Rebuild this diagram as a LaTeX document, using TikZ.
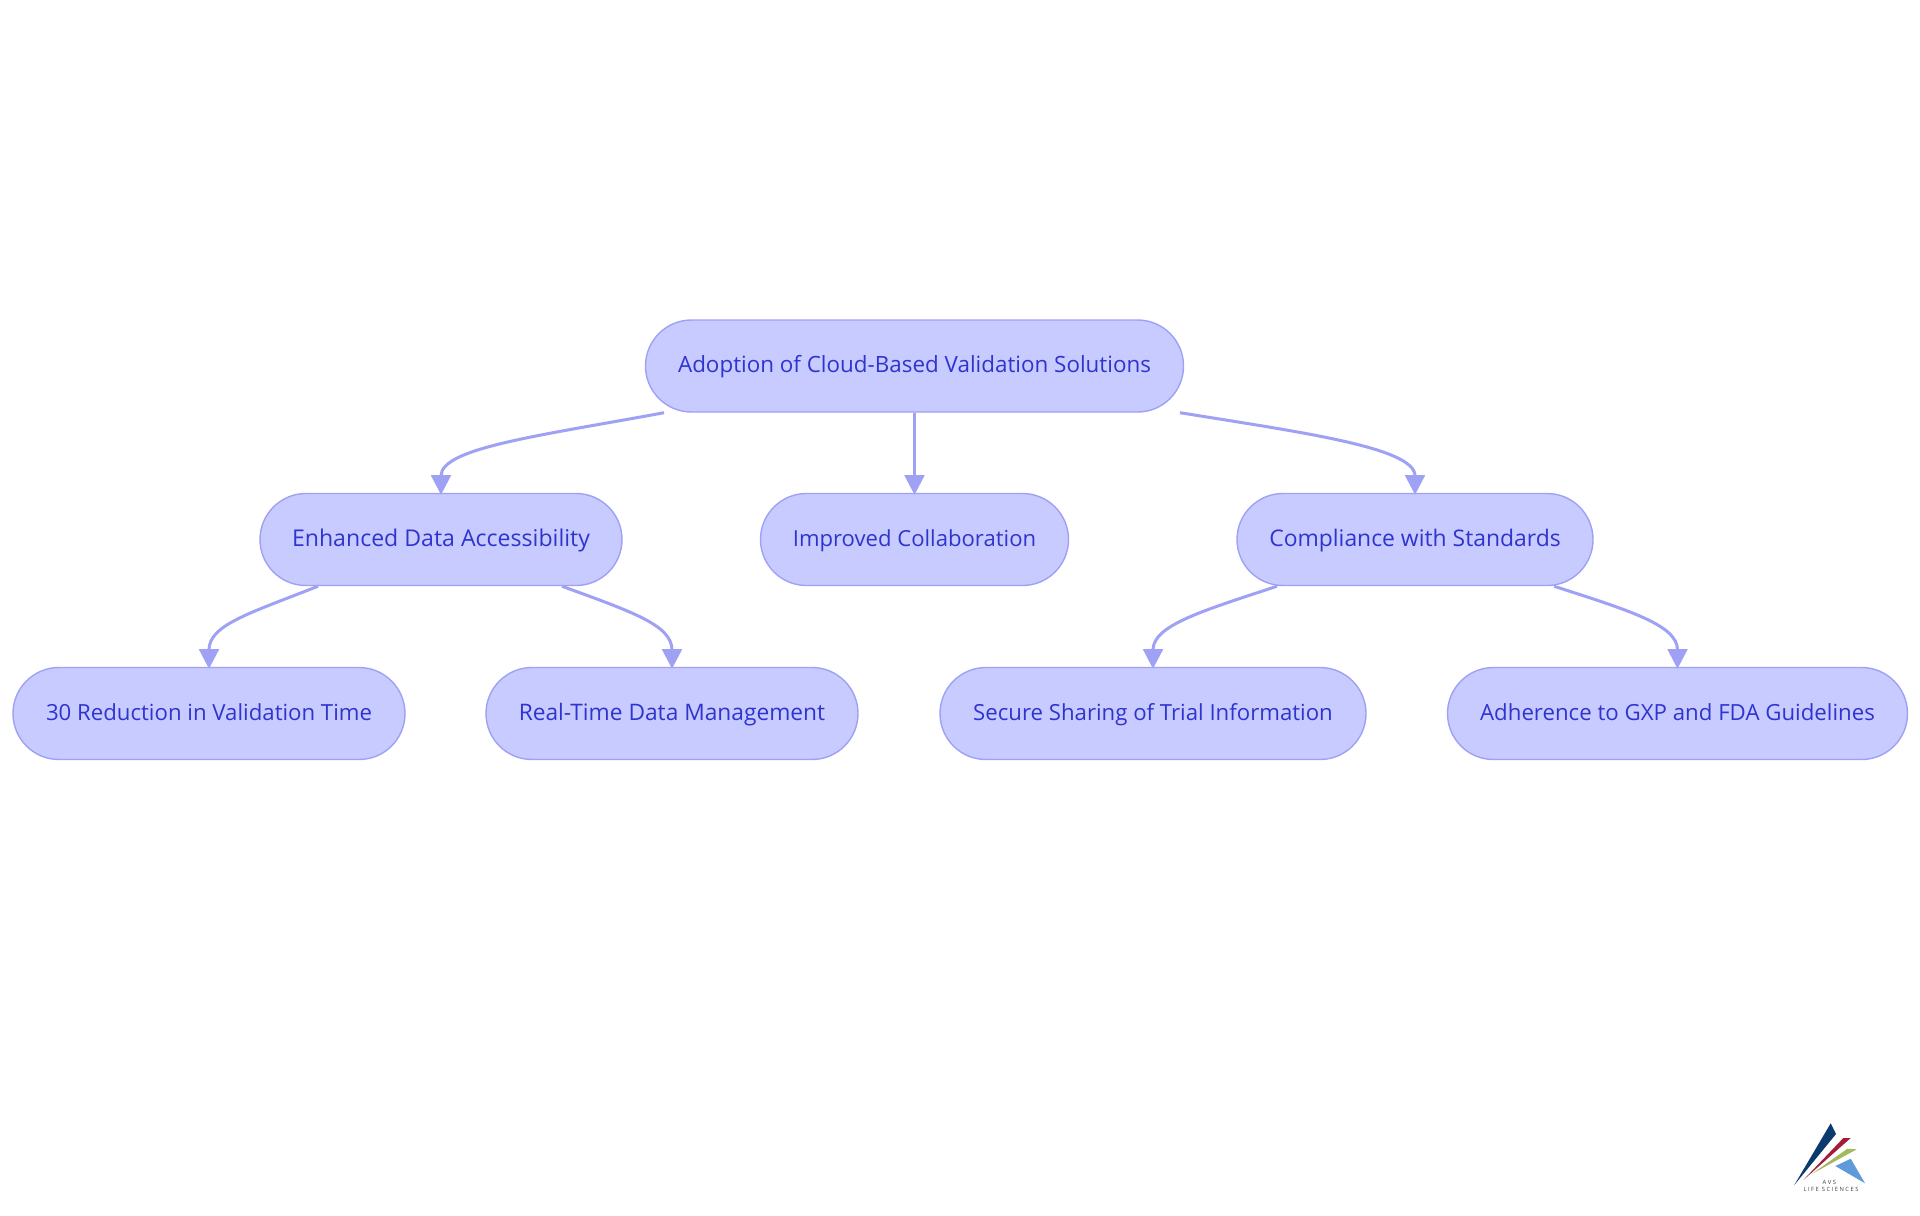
\documentclass[tikz,border=0pt]{standalone}
\usepackage{fontspec}
\setmainfont{Open Sans}
\usetikzlibrary{arrows.meta,calc}
\definecolor{nodefill}{HTML}{C8CBFF}
\definecolor{nodeline}{HTML}{9EA1F4}
\definecolor{nodetext}{HTML}{2F34CF}
\definecolor{logonavy}{HTML}{0B3A6E}
\definecolor{logored}{HTML}{A31B36}
\definecolor{logogreen}{HTML}{A3B95F}
\definecolor{logoblue}{HTML}{5F9BDA}
\tikzset{
  box/.style={draw=nodeline,fill=nodefill,line width=0.7pt,rounded corners=23pt,minimum height=46pt,inner sep=0pt,text=nodetext,text height=9.3pt,text depth=2.5pt},
  fs/.style={font=\fontsize{#1pt}{14pt}\selectfont},
  link/.style={draw=nodeline,line width=1.5pt,shorten >=-1pt,-{Triangle[length=9.8pt,width=9.8pt,color=nodeline]}},
  logotext/.style={font=\fontsize{2.9pt}{3.2pt}\selectfont,text=black!75,inner sep=0pt}
}
\begin{document}
\begin{tikzpicture}[x=0.5pt,y=-0.5pt]
\useasboundingbox (0,0) rectangle (1920,1215);
\fill[white] (0,0) rectangle (1920,1215);
\node[box,fs=11.2,minimum width=269pt] (root) at (914.5,366) {Adoption of Cloud-Based Validation Solutions};
\node[box,fs=11.55,minimum width=181pt] (n1) at (441,539.5) {Enhanced Data Accessibility};
\node[box,fs=11.05,minimum width=154pt] (n2) at (914.5,539.5) {Improved Collaboration};
\node[box,fs=11.45,minimum width=178pt] (n3) at (1415,539.5) {Compliance with Standards};
\node[box,fs=11.1,minimum width=196pt] (a) at (209,713.5) {30 Reduction in Validation Time};
\node[box,fs=11.37,minimum width=186pt] (b) at (672,713.5) {Real-Time Data Management};
\node[box,fs=11.1,minimum width=213pt] (c) at (1153,713.5) {Secure Sharing of Trial Information};
\node[box,fs=11.12,minimum width=230pt] (d) at (1677.5,713.5) {Adherence to GXP and FDA Guidelines};
\draw[link] ($(root.south)+(-250.5,0)$) .. controls +(-124,23) and ($(n1.north)+(0,-45)$) .. (n1.north);
\draw[link] (root.south) -- (n2.north);
\draw[link] ($(root.south)+(265.5,0)$) .. controls +(124,20) and ($(n3.north)+(0,-45)$) .. (n3.north);
\draw[link] ($(n1.south)+(-123,0)$) .. controls +(-68,27) and ($(a.north)+(0,-42)$) .. (a.north);
\draw[link] ($(n1.south)+(121,0)$) .. controls +(68,25) and ($(b.north)+(0,-42)$) .. (b.north);
\draw[link] ($(n3.south)+(-138,0)$) .. controls +(-72,24) and ($(c.north)+(0,-42)$) .. (c.north);
\draw[link] ($(n3.south)+(139,0)$) .. controls +(74,24) and ($(d.north)+(0,-42)$) .. (d.north);
% logo
\fill[logonavy] (1830.7,1123.3) -- (1836,1134) -- (1794.3,1185) -- cycle;
\fill[logored] (1843.3,1138) -- (1850.7,1138) -- (1803.3,1180) -- cycle;
\fill[logogreen] (1847.3,1148.7) -- (1856.7,1149.3) -- (1811.7,1174) -- cycle;
\fill[logoblue] (1850.7,1158.7) -- (1835.3,1166) -- (1865,1183.3) -- cycle;
\node[logotext] (avs) at (1829.3,1182.5) {A V S};
\node[logotext] (life) at (1831,1189) {L I F E\ \ S C I E N C E S};
\end{tikzpicture}
\end{document}
